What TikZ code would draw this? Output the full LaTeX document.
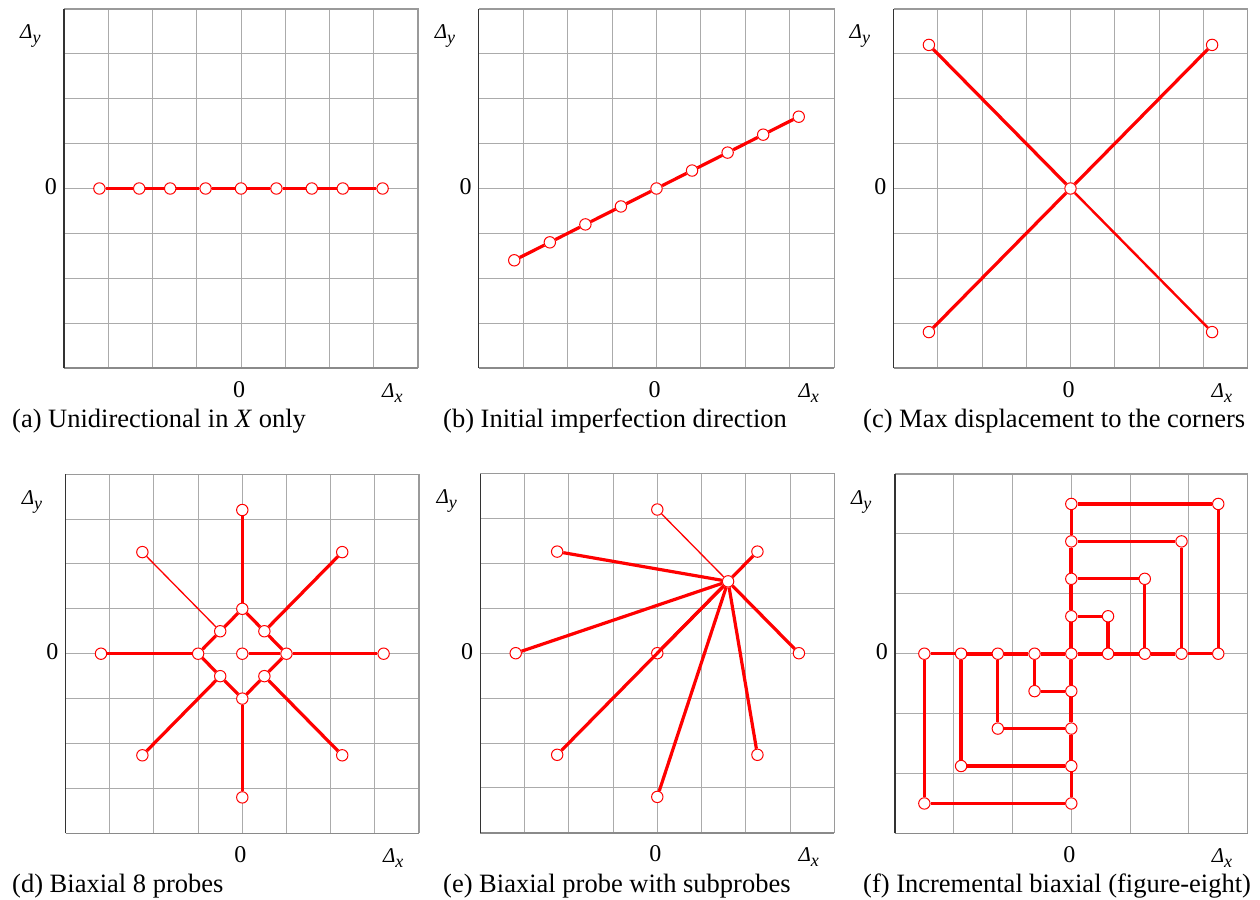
\documentclass[tikz,border=0pt]{standalone}
\usepackage{fontspec}
\setmainfont{Liberation Serif}
\usetikzlibrary{calc}
\definecolor{gridgray}{HTML}{ABABAB}
\definecolor{framegray}{HTML}{9A9A9A}
\definecolor{bottomgray}{HTML}{8A8A8A}
\definecolor{axisdark}{HTML}{333333}
\definecolor{probe}{HTML}{FF0000}
\tikzset{
 gridline/.style={draw=gridgray, line width=1bp},
 frameline/.style={draw=framegray, line width=1.2bp},
 leftaxis/.style={draw=axisdark, line width=1.4bp},
 bottomaxis/.style={draw=bottomgray, line width=1.6bp},
 pnt/.style={circle, draw=probe, fill=white, line width=1bp, inner sep=0pt, minimum size=11.4bp},
 track/.style={draw=probe, line width=3.2bp},
 heavytrack/.style={draw=probe, line width=4bp},
 thintrack/.style={draw=probe, line width=1.3bp},
 midtrack/.style={draw=probe, line width=2.4bp},
 dlabel/.style={inner sep=0pt, font=\fontsize{21bp}{21bp}\selectfont},
 ticklabel/.style={inner sep=0pt, font=\fontsize{24bp}{24bp}\selectfont},
 captext/.style={inner sep=0pt, anchor=base west, font=\fontsize{26.5bp}{26.5bp}\selectfont},
 panelcs/.style n args={4}{shift={(#1,#2)}, x=#3bp, y=#4bp},
}
\newcommand\dsym[1]{\textit{Δ}\raisebox{-5bp}{\fontsize{18bp}{18bp}\selectfont\textit{#1}}}
\newcommand\panelframe[2]{%
 \pgfmathtruncatemacro\glo{1-#2}\pgfmathtruncatemacro\ghi{#2-1}%
 \foreach \k in {\glo,...,\ghi}{\draw[gridline] (\k,-#2) -- (\k,#2); \draw[gridline] (-#2,\k) -- (#2,\k);}
 \draw[frameline] (-#2,#2) -- (#2,#2) -- (#2,-#2);
 \draw[bottomaxis] (-#2,-#2) -- (#2,-#2);
 \draw[leftaxis] (-#2,-#2) -- (-#2,#2);
 \node[dlabel, anchor=base west] (#1dy) at ([xshift=-44bp,yshift=-30bp]-#2,#2) {\dsym{y}};
 \node[ticklabel, anchor=base east] (#1y0) at ([xshift=-7bp,yshift=-6bp]-#2,0) {0};
 \node[ticklabel, anchor=base] (#1x0) at ([xshift=-2bp,yshift=-29bp]0,-#2) {0};
 \node[dlabel, anchor=base west] (#1dx) at ([xshift=-36bp,yshift=-29bp]#2,-#2) {\dsym{x}};
}
\begin{document}
\begin{tikzpicture}[x=1bp,y=-1bp]
\useasboundingbox (0,0) rectangle (1260,900);
\fill[white] (0,0) rectangle (1260,900);

% (a)
\begin{scope}[panelcs={241}{188.5}{44.25}{44.875}]
 \panelframe{a}{4}
 \foreach \n/\x in {1/-3.2,2/-2.3,3/-1.6,4/-0.8,5/0,6/0.8,7/1.6,8/2.3,9/3.2}
   \node[pnt] (a\n) at (\x,0) {};
 \foreach \i/\j in {1/2,2/3,3/4,4/5,5/6,6/7,7/8,8/9}
   \draw[track] (a\i) -- (a\j);
\end{scope}
\node[captext] (acap) at (12,427) {(a) Unidirectional in \textit{X} only};

% (b)
\begin{scope}[panelcs={656.5}{188.5}{44.45}{44.875}]
 \panelframe{b}{4}
 \foreach \n in {1,...,9}
   \node[pnt] (b\n) at ({0.8*(\n-5)},{0.4*(\n-5)}) {};
 \foreach \i/\j in {1/2,2/3,3/4,4/5,5/6,6/7,7/8,8/9}
   \draw[track] (b\i) -- (b\j);
\end{scope}
\node[captext] (bcap) at (443,427) {(b) Initial imperfection direction};

% (c)
\begin{scope}[panelcs={1070.5}{188.5}{44.25}{44.875}]
 \panelframe{c}{4}
 \node[pnt] (c0) at (0,0) {};
 \node[pnt] (cne) at (3.2,3.2) {};
 \node[pnt] (cnw) at (-3.2,3.2) {};
 \node[pnt] (csw) at (-3.2,-3.2) {};
 \node[pnt] (cse) at (3.2,-3.2) {};
 \draw[track] (c0) -- (cne);
 \draw[track] (c0) -- (cnw);
 \draw[track] (c0) -- (csw);
 \draw[midtrack] (c0) -- (cse);
\end{scope}
\node[captext] (ccap) at (863,427) {(c) Max displacement to the corners};

% (d)
\begin{scope}[panelcs={242.3}{653.7}{44.16}{44.9}]
 \panelframe{d}{4}
 \node[pnt] (d0) at (0,0) {};
 \foreach \n/\x/\y in {1/1/0,2/0.5/0.5,3/0/1,4/-0.5/0.5,5/-1/0,6/-0.5/-0.5,7/0/-1,8/0.5/-0.5}
   \node[pnt] (di\n) at (\x,\y) {};
 \foreach \n/\a in {1/0,2/45,3/90,4/135,5/180,6/225,7/270,8/315}
   \node[pnt] (do\n) at (\a:3.2) {};
 \draw[track] (d0) -- (di1);
 \foreach \i/\j in {1/2,2/3,3/4,4/5,5/6,6/7,7/8,8/1}
   \draw[track] (di\i) -- (di\j);
 \foreach \n in {1,2,3,5,6,7,8}
   \draw[track] (di\n) -- (do\n);
 \draw[thintrack] (di4) -- (do4);
\end{scope}
\node[captext] (dcap) at (12,892) {(d) Biaxial 8 probes};

% (e)
\begin{scope}[panelcs={657.3}{653.2}{44.25}{44.9}]
 \panelframe{e}{4}
 \node[pnt] (eh) at (1.6,1.6) {};
 \node[pnt] (e1) at (0,3.2) {};
 \node[pnt] (e2) at (135:3.2) {};
 \node[pnt] (e3) at (45:3.2) {};
 \node[pnt] (e4) at (-3.2,0) {};
 \node[pnt] (e5) at (0,0) {};
 \node[pnt] (e6) at (3.2,0) {};
 \node[pnt] (e7) at (225:3.2) {};
 \node[pnt] (e8) at (315:3.2) {};
 \node[pnt] (e9) at (0,-3.2) {};
 \draw[thintrack] (eh) -- (e1);
 \foreach \n in {2,...,9}
   \draw[track] (eh) -- (e\n);
\end{scope}
\node[captext] (ecap) at (443,892) {(e) Biaxial probe with subprobes};

% (f)
\begin{scope}[panelcs={1071.3}{653.7}{58.78}{59.9}]
 \panelframe{f}{3}
 \foreach \i in {-4,...,4}
   \node[pnt] (fx\i y0) at ({0.625*\i},0) {};
 \foreach \j in {-4,-3,-2,-1,1,2,3,4}
   \node[pnt] (fx0y\j) at (0,{0.625*\j}) {};
 \foreach \k in {1,...,4}{
   \node[pnt] (fx\k y\k) at ({0.625*\k},{0.625*\k}) {};
   \node[pnt] (fx-\k y-\k) at ({-0.625*\k},{-0.625*\k}) {};
 }
 \foreach \i/\j in {-3/-2,-2/-1,-1/0,0/1,1/2,2/3}{
   \draw[heavytrack] (fx\i y0) -- (fx\j y0);
   \draw[heavytrack] (fx0y\i) -- (fx0y\j);
 }
 \draw[track] (fx-4y0) -- (fx-3y0);
 \draw[track] (fx3y0) -- (fx4y0);
 \draw[track] (fx0y-4) -- (fx0y-3);
 \draw[track] (fx0y3) -- (fx0y4);
 \foreach \k in {1,...,4}{
   \draw[track] (fx0y\k) -- (fx\k y\k) -- (fx\k y0);
   \draw[track] (fx-\k y0) -- (fx-\k y-\k) -- (fx0y-\k);
 }
\end{scope}
\node[captext] (fcap) at (863,892) {(f) Incremental biaxial (figure-eight)};
\end{tikzpicture}
\end{document}
